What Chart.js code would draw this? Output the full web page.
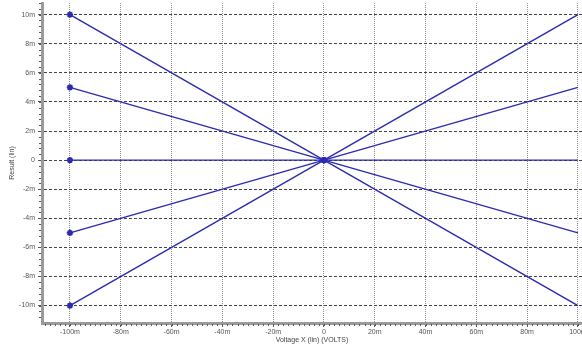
<!DOCTYPE html>
<html>
<head>
<meta charset="utf-8">
<script src="https://cdn.jsdelivr.net/npm/chart.js@4.4.1/dist/chart.umd.min.js"></script>
<style>
  html, body { margin: 0; padding: 0; background: #ffffff; }
  #wrap { width: 582px; height: 344px; position: relative; }
</style>
</head>
<body>
<div id="wrap"><canvas id="c"></canvas></div>
<script>
// Sweep values (milli-units)
const sweepX = [-100, 0, 100];
const seriesA = [10, 0, -10];
const seriesB = [5, 0, -5];
const seriesC = [0, 0, 0];
const seriesD = [-5, 0, 5];
const seriesE = [-10, 0, 10];

// Tick labels
const xTickValues = [-100, -80, -60, -40, -20, 0, 20, 40, 60, 80, 100];
const yTickValues = [-10, -8, -6, -4, -2, 0, 2, 4, 6, 8, 10];

const lineColor = '#2b2bb0';
const fmt = v => (v === 0 ? '0' : v + 'm');

function toPoints(ys) {
  return sweepX.map((x, i) => ({ x: x, y: ys[i] }));
}

function makeSet(ys) {
  return {
    data: toPoints(ys),
    borderColor: lineColor,
    backgroundColor: lineColor,
    borderWidth: 1.4,
    pointStyle: 'star',
    pointRadius: [3.2, 3.2, 0],
    pointBorderWidth: 1.8,
    pointHoverRadius: 0,
    showLine: true,
    fill: false,
    tension: 0
  };
}

// Small minor tick marks along both axes
const minorTicks = {
  id: 'minorTicks',
  afterDraw(chart) {
    const ctx = chart.ctx;
    const xs = chart.scales.x, ys = chart.scales.y;
    const area = chart.chartArea;
    ctx.save();
    ctx.strokeStyle = '#555';
    ctx.lineWidth = 1;
    ctx.beginPath();
    for (let v = -110; v <= 101; v += 2) {
      const px = Math.round(xs.getPixelForValue(v)) + 0.5;
      if (px < area.left || px > area.right) continue;
      ctx.moveTo(px, area.bottom + 1);
      ctx.lineTo(px, area.bottom + 3);
    }
    for (let i = -28; i <= 27; i++) {
      const v = i * 0.4;
      const py = Math.round(ys.getPixelForValue(v)) + 0.5;
      if (py < area.top || py > area.bottom) continue;
      ctx.moveTo(area.left - 1, py);
      ctx.lineTo(area.left - 3, py);
    }
    ctx.stroke();
    ctx.restore();
  }
};

new Chart(document.getElementById('c'), {
  type: 'scatter',
  data: {
    datasets: [makeSet(seriesA), makeSet(seriesB), makeSet(seriesC), makeSet(seriesD), makeSet(seriesE)]
  },
  options: {
    responsive: true,
    maintainAspectRatio: false,
    animation: false,
    layout: { autoPadding: false, padding: { top: 3, right: 0, bottom: 0, left: 0 } },
    plugins: { legend: { display: false }, tooltip: { enabled: false } },
    scales: {
      x: {
        type: 'linear',
        min: -111,
        max: 101.6,
        afterBuildTicks: s => { s.ticks = xTickValues.map(v => ({ value: v })); },
        afterFit: s => { s.height = 21; s.paddingLeft = 0; s.paddingRight = 0; },
        ticks: {
          callback: v => fmt(v),
          font: { family: 'Liberation Sans', size: 7 },
          color: '#555',
          padding: 1,
          maxRotation: 0,
          autoSkip: false
        },
        grid: {
          color: '#8a8a8a',
          lineWidth: 1,
          tickColor: '#555',
          tickLength: 4,
          tickBorderDash: []
        },
        border: { color: '#9a9a9a', width: 3, dash: [1, 1] },
        title: {
          display: true,
          text: 'Voltage X (lin) (VOLTS)',
          font: { family: 'Liberation Sans', size: 7 },
          color: '#444',
          padding: { top: 0, bottom: 0 }
        }
      },
      y: {
        type: 'linear',
        min: -11.2,
        max: 10.8,
        afterBuildTicks: s => { s.ticks = yTickValues.map(v => ({ value: v })); },
        afterFit: s => { s.width = 42; s.paddingTop = 0; s.paddingBottom = 0; },
        ticks: {
          callback: v => fmt(v),
          font: { family: 'Liberation Sans', size: 7 },
          color: '#555',
          padding: 3,
          autoSkip: false
        },
        grid: {
          color: '#444',
          lineWidth: 1,
          tickColor: '#555',
          tickLength: 4,
          tickBorderDash: []
        },
        border: { color: '#9a9a9a', width: 3, dash: [3, 2] },
        title: {
          display: true,
          text: 'Result (lin)',
          font: { family: 'Liberation Sans', size: 7 },
          color: '#444',
          padding: { top: 8, bottom: 0 }
        }
      }
    }
  },
  plugins: [minorTicks]
});
</script>
</body>
</html>
